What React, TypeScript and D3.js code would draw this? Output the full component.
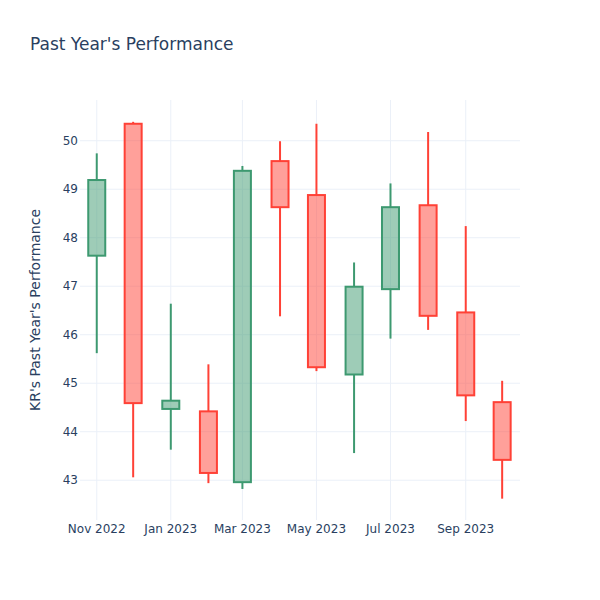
import React from "react";
import * as d3 from "d3";

const dates = ["2022-11-01","2022-12-01","2023-01-01","2023-02-01","2023-03-01","2023-04-01","2023-05-01","2023-06-01","2023-07-01","2023-08-01","2023-09-01","2023-10-01"];
const opens = [47.63, 50.35, 44.47, 44.42, 42.96, 49.58, 48.88, 45.18, 46.94, 48.67, 46.46, 44.61];
const highs = [49.74, 50.39, 46.64, 45.39, 49.48, 49.99, 50.35, 47.49, 49.12, 50.18, 48.24, 45.05];
const lows = [45.62, 43.06, 43.63, 42.94, 42.82, 46.38, 45.25, 43.56, 45.92, 46.10, 44.22, 42.62];
const closes = [49.19, 44.59, 44.64, 43.15, 49.38, 48.63, 45.33, 46.99, 48.63, 46.39, 44.75, 43.42];
const yTicks = [43, 44, 45, 46, 47, 48, 49, 50];
const xTickDates = ["2022-11-01","2023-01-01","2023-03-01","2023-05-01","2023-07-01","2023-09-01"];

const W = 600, H = 600;
const M = { left: 80, right: 80, top: 100, bottom: 80 };
const FONT = '"DejaVu Sans", verdana, arial, sans-serif';
const TXT = "#2a3f5f";
const GRID = "#ebf0f8";
const INC = "#3D9970", DEC = "#FF4136";

export default function App() {
  const parse = d3.utcParse("%Y-%m-%d");
  const ds = dates.map((d) => parse(d)!);
  const day = 86400000;
  const x = d3.scaleUtc()
    .domain([new Date(ds[0].getTime() - 13.8 * day), new Date(ds[ds.length - 1].getTime() + 14.7 * day)])
    .range([M.left, W - M.right]);
  const y = d3.scaleLinear().domain([42.18, 50.84]).range([H - M.bottom, M.top]);
  const fmt = d3.utcFormat("%b %Y");
  const bw = 17;

  return (
    <svg width={W} height={H} style={{ display: "block", position: "absolute", left: 0, top: 0 }} fontFamily={FONT}>
      <rect width={W} height={H} fill="#fff" />
      {xTickDates.map((t) => {
        const xx = x(parse(t)!);
        return <line key={t} x1={xx} x2={xx} y1={M.top} y2={H - M.bottom} stroke={GRID} strokeWidth={1} />;
      })}
      {yTicks.map((t) => (
        <line key={t} x1={M.left} x2={W - M.right} y1={y(t)} y2={y(t)} stroke={GRID} strokeWidth={1} />
      ))}
      {ds.map((d, i) => {
        const inc = closes[i] >= opens[i];
        const c = inc ? INC : DEC;
        const fill = inc ? "rgba(61,153,112,0.5)" : "rgba(255,65,54,0.5)";
        const cx = x(d);
        const top = y(Math.max(opens[i], closes[i]));
        const bot = y(Math.min(opens[i], closes[i]));
        return (
          <g key={i}>
            <line x1={cx} x2={cx} y1={y(highs[i])} y2={top} stroke={c} strokeWidth={2} />
            <line x1={cx} x2={cx} y1={bot} y2={y(lows[i])} stroke={c} strokeWidth={2} />
            <rect x={cx - bw / 2} y={top} width={bw} height={Math.max(bot - top, 0.5)} fill={fill} stroke={c} strokeWidth={2} />
          </g>
        );
      })}
      {yTicks.map((t) => (
        <text key={t} x={M.left - 2} y={y(t)} dy="0.35em" textAnchor="end" fontSize={12} fill={TXT}>{t}</text>
      ))}
      {xTickDates.map((t) => (
        <text key={t} x={x(parse(t)!)} y={H - M.bottom + 4} dy="0.71em" textAnchor="middle" fontSize={12} fill={TXT}>{fmt(parse(t)!)}</text>
      ))}
      <text x={30} y={50} fontSize={17} fill={TXT}>Past Year's Performance</text>
      <text transform={`translate(40,${(M.top + H - M.bottom) / 2}) rotate(-90)`} textAnchor="middle" fontSize={14} fill={TXT}>KR's Past Year's Performance</text>
    </svg>
  );
}
